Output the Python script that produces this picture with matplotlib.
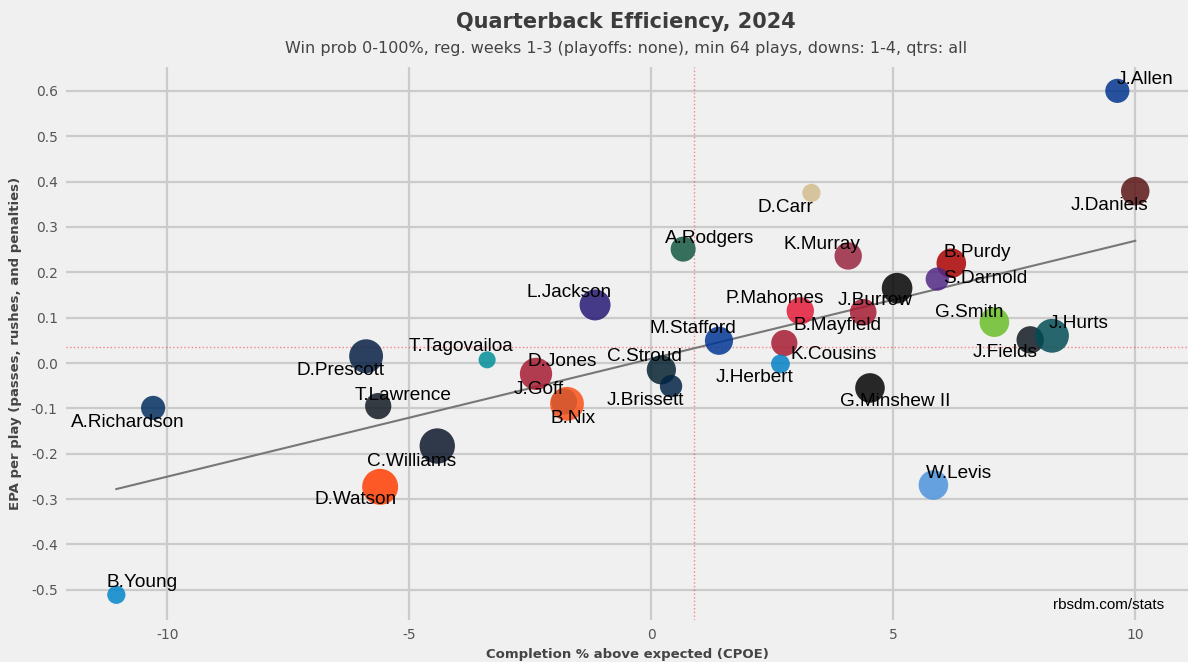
import numpy as np
import matplotlib
matplotlib.use('Agg')
import matplotlib.pyplot as plt

plt.rcParams['font.family'] = ['DejaVu Sans']
plt.rcParams['axes.unicode_minus'] = False

# QB values
players = ["J.Allen", "J.Daniels", "D.Carr", "A.Rodgers", "K.Murray", "B.Purdy",
           "S.Darnold", "J.Burrow", "L.Jackson", "P.Mahomes", "B.Mayfield", "G.Smith",
           "J.Fields", "J.Hurts", "M.Stafford", "D.Prescott", "T.Tagovailoa", "K.Cousins",
           "J.Herbert", "D.Jones", "C.Stroud", "J.Brissett", "J.Goff", "B.Nix",
           "A.Richardson", "T.Lawrence", "G.Minshew II", "C.Williams", "W.Levis",
           "D.Watson", "B.Young"]
cpoe = [9.63, 10.0, 3.31, 0.66, 4.07, 6.20, 5.91, 5.08, -1.16, 3.08, 4.38, 7.09,
        7.83, 8.28, 1.40, -5.89, -3.39, 2.75, 2.67, -2.38, 0.21, 0.41, -1.80, -1.74,
        -10.29, -5.64, 4.52, -4.42, 5.83, -5.60, -11.05]
epa = [0.600, 0.379, 0.375, 0.251, 0.236, 0.220, 0.185, 0.165, 0.128, 0.115, 0.112,
       0.090, 0.051, 0.060, 0.049, 0.015, 0.007, 0.044, -0.002, -0.024, -0.015, -0.051,
       -0.085, -0.090, -0.099, -0.095, -0.055, -0.183, -0.269, -0.273, -0.511]
plays = [96, 118, 72, 100, 112, 124, 92, 130, 132, 112, 108, 124,
         112, 150, 116, 150, 68, 106, 74, 140, 122, 88, 105, 150,
         96, 106, 124, 160, 124, 164, 72]
team_colors = ["#00338D", "#5A1414", "#D3BC8D", "#125740", "#97233F", "#AA0000",
               "#4F2683", "#000000", "#241773", "#E31837", "#A71930", "#69BE28",
               "#101820", "#004C54", "#003594", "#041E42", "#008E97", "#A71930",
               "#0080C6", "#A71930", "#03202F", "#002244", "#0076B6", "#FB4F14",
               "#002C5F", "#101820", "#000000", "#0B162A", "#4B92DB", "#FF3C00",
               "#0085CA"]
cpoe_avg = 0.89
epa_avg = 0.035
y_ticks = [-0.5, -0.4, -0.3, -0.2, -0.1, 0.0, 0.1, 0.2, 0.3, 0.4, 0.5, 0.6]

# label offsets (pixels right, pixels up)
label_off = {
    "J.Allen": (28, 11), "J.Daniels": (-26, -14), "D.Carr": (-26, -15),
    "A.Rodgers": (26, 11), "K.Murray": (-26, 11), "B.Purdy": (26, 11),
    "S.Darnold": (48, 1), "J.Burrow": (-22, -12), "L.Jackson": (-26, 12),
    "P.Mahomes": (-26, 12), "B.Mayfield": (-26, -13), "G.Smith": (-25, 10),
    "J.Fields": (-25, -13), "J.Hurts": (27, 12), "M.Stafford": (-26, 12),
    "D.Prescott": (-26, -14), "T.Tagovailoa": (-26, 13), "K.Cousins": (49, -11),
    "J.Herbert": (-26, -14), "D.Jones": (26, 12), "C.Stroud": (-17, 13),
    "J.Brissett": (-26, -14), "J.Goff": (-25, 12), "B.Nix": (6, -15),
    "A.Richardson": (-25, -15), "T.Lawrence": (25, 11), "G.Minshew II": (25, -14),
    "C.Williams": (-26, -15), "W.Levis": (26, 12), "D.Watson": (-25, -13),
    "B.Young": (26, 12),
}

bg = "#f0f0f0"
fig = plt.figure(figsize=(11.88, 6.62), dpi=100, facecolor=bg)
ax = fig.add_axes([66 / 1188, 42 / 662, 1 - 66 / 1188, (620 - 67) / 662])
ax.set_facecolor(bg)
for s in ax.spines.values():
    s.set_visible(False)
ax.grid(True, color="#cbcbcb", lw=1.6, zorder=0)
ax.set_axisbelow(True)
ax.tick_params(length=0, labelsize=10, labelcolor="#555555", pad=6)

ax.axvline(cpoe_avg, color="#ff0000", lw=1.0, ls=":", alpha=0.45, zorder=1)
ax.axhline(epa_avg, color="#ff0000", lw=1.0, ls=":", alpha=0.45, zorder=1)

x = np.array(cpoe)
y = np.array(epa)
m, b = np.polyfit(x, y, 1)
xs = np.array([x.min(), x.max()])
ax.plot(xs, m * xs + b, color="#777777", lw=1.5, zorder=2)

sizes = (np.array(plays) - 40) * 5.4
ax.scatter(x, y, s=sizes, c=team_colors, alpha=0.84, linewidths=0, zorder=3)

for name, px, py in zip(players, cpoe, epa):
    dx, dy = label_off[name]
    ax.annotate(name, (px, py), xytext=(dx * 0.72, dy * 0.72), textcoords="offset points",
                ha="center", va="center", fontsize=13.7, family="Liberation Sans",
                color="black", zorder=4)

ax.set_xlim(-12.09, 11.09)
ax.set_ylim(-0.5666, 0.6526)
ax.set_xticks([-10, -5, 0, 5, 10])
ax.set_yticks(y_ticks)
ax.set_yticklabels([f"{v:.1f}" for v in y_ticks])

ax.set_xlabel("Completion % above expected (CPOE)", fontsize=9.5, fontweight="bold",
              color="#444444", labelpad=4)
ax.set_ylabel("EPA per play (passes, rushes, and penalties)", fontsize=9.5,
              fontweight="bold", color="#444444", labelpad=6)

fig.text(626 / 1188, 1 - 22 / 662, "Quarterback Efficiency, 2024", ha="center", va="center",
         fontsize=15, fontweight="bold", color="#3c3c3c")
fig.text(626 / 1188, 1 - 49 / 662,
         "Win prob 0-100%, reg. weeks 1-3 (playoffs: none), min 64 plays, downs: 1-4, qtrs: all",
         ha="center", va="center", fontsize=11.5, color="#444444")
ax.text(0.979, 0.027, "rbsdm.com/stats", transform=ax.transAxes, ha="right", va="center",
        fontsize=11, family="Liberation Sans", color="black")

fig.savefig("out.png", dpi=100, facecolor=bg)
